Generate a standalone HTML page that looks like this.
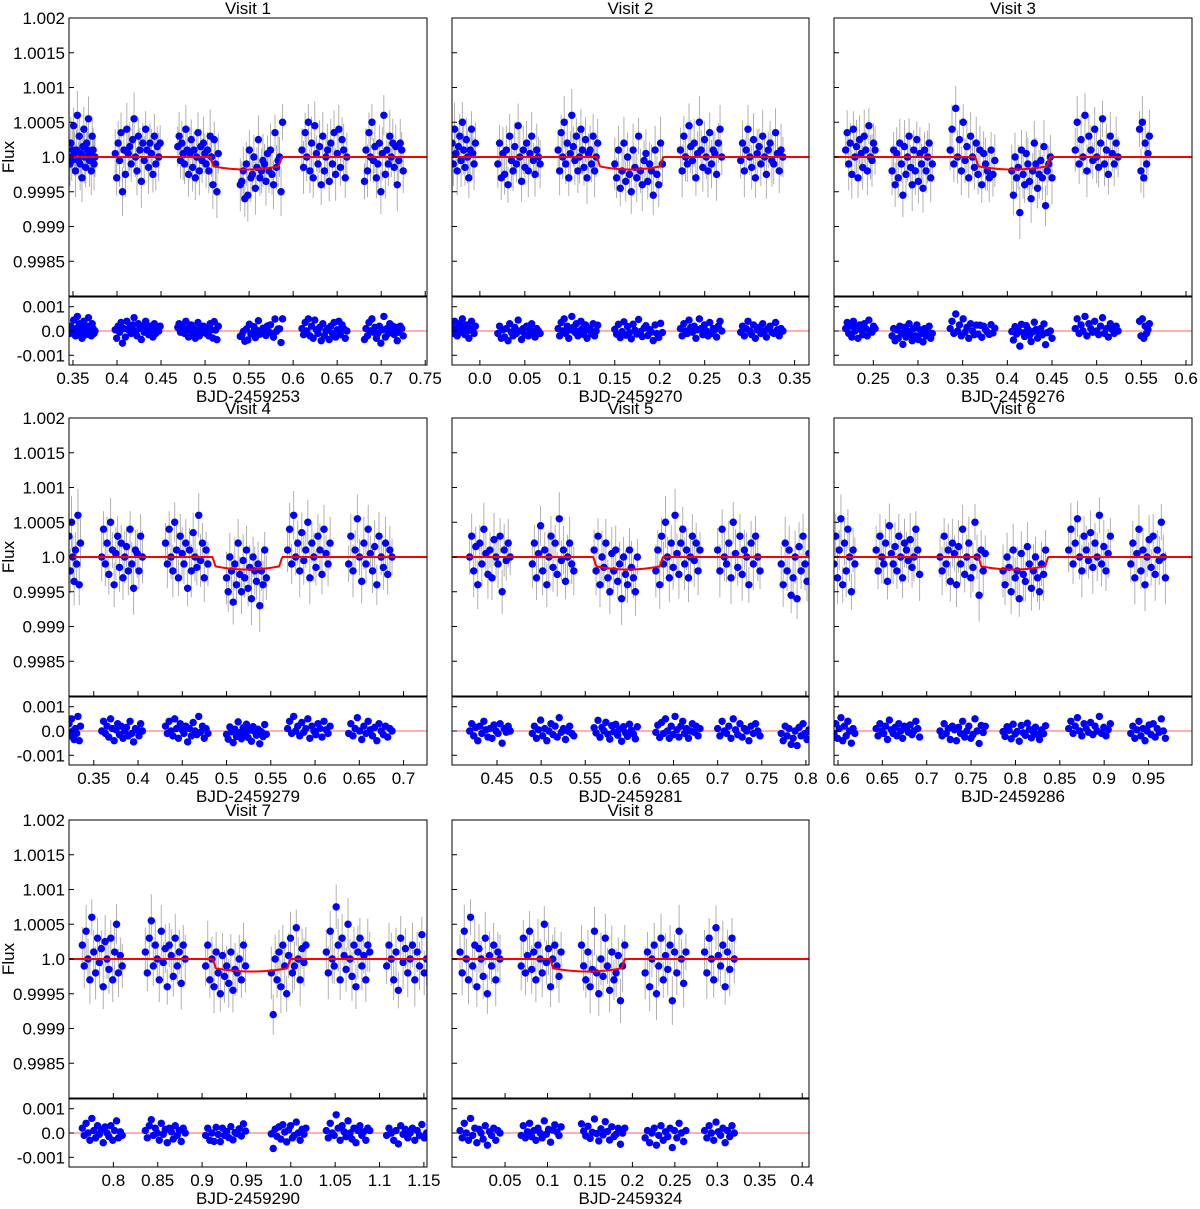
<!DOCTYPE html>
<html><head><meta charset="utf-8"><style>
body{margin:0;background:#fff;}
svg text{font-family:"Liberation Sans",sans-serif;fill:#000;}
</style></head><body>
<svg id="fig" width="1200" height="1204" xmlns="http://www.w3.org/2000/svg"></svg>
<script>
// ---- data (flux offsets in units of 1e-4, per orbit cluster) ----
const visitTitles = ["Visit 1","Visit 2","Visit 3","Visit 4","Visit 5","Visit 6","Visit 7","Visit 8"];
const visitBJD = ["BJD-2459253","BJD-2459270","BJD-2459276","BJD-2459279","BJD-2459281","BJD-2459286","BJD-2459290","BJD-2459324"];
const xRanges = [[0.3455,0.752],[-0.031,0.366],[0.206,0.6067],[0.322,0.7265],[0.399,0.8035],[0.5955,0.999],[0.750,1.1535],[-0.0125,0.408]];
const xTicks = [
 [0.35,0.4,0.45,0.5,0.55,0.6,0.65,0.7,0.75],
 [0.0,0.05,0.1,0.15,0.2,0.25,0.3,0.35],
 [0.25,0.3,0.35,0.4,0.45,0.5,0.55,0.6],
 [0.35,0.4,0.45,0.5,0.55,0.6,0.65,0.7],
 [0.45,0.5,0.55,0.6,0.65,0.7,0.75,0.8],
 [0.6,0.65,0.7,0.75,0.8,0.85,0.9,0.95],
 [0.8,0.85,0.9,0.95,1.0,1.05,1.1,1.15],
 [0.05,0.1,0.15,0.2,0.25,0.3,0.35,0.4]];
const xTickLabels = [
 ["0.35","0.4","0.45","0.5","0.55","0.6","0.65","0.7","0.75"],
 ["0.0","0.05","0.1","0.15","0.2","0.25","0.3","0.35"],
 ["0.25","0.3","0.35","0.4","0.45","0.5","0.55","0.6"],
 ["0.35","0.4","0.45","0.5","0.55","0.6","0.65","0.7"],
 ["0.45","0.5","0.55","0.6","0.65","0.7","0.75","0.8"],
 ["0.6","0.65","0.7","0.75","0.8","0.85","0.9","0.95"],
 ["0.8","0.85","0.9","0.95","1.0","1.05","1.1","1.15"],
 ["0.05","0.1","0.15","0.2","0.25","0.3","0.35","0.4"]];
const yTicks = [0.9985,0.999,0.9995,1.0,1.0005,1.001,1.0015,1.002];
const yTickLabels = ["0.9985","0.999","0.9995","1.0","1.0005","1.001","1.0015","1.002"];
const rTicks = [-0.001,0.0,0.001];
const rTickLabels = ["-0.001","0.0","0.001"];
// transit windows [start,end]
const transits = [[0.506,0.587],[0.130,0.204],[0.364,0.448],[0.484,0.563],[0.559,0.638],[0.758,0.837],[0.912,0.9995],[0.103,0.191]];
// orbit cluster time ranges
const clusterTimes = [
 [[0.3455,0.375],[0.398,0.449],[0.469,0.515],[0.540,0.588],[0.610,0.661],[0.681,0.725]],
 [[-0.031,-0.005],[0.020,0.067],[0.087,0.131],[0.150,0.203],[0.223,0.269],[0.290,0.337]],
 [[0.219,0.252],[0.271,0.316],[0.336,0.386],[0.405,0.450],[0.476,0.524],[0.548,0.559]],
 [[0.322,0.335],[0.359,0.405],[0.431,0.479],[0.500,0.545],[0.569,0.617],[0.638,0.687]],
 [[0.419,0.465],[0.490,0.537],[0.560,0.609],[0.630,0.680],[0.700,0.748],[0.772,0.8035]],
 [[0.5955,0.619],[0.643,0.692],[0.715,0.766],[0.786,0.834],[0.860,0.907],[0.930,0.969]],
 [[0.765,0.810],[0.836,0.881],[0.904,0.949],[0.978,1.017],[1.040,1.089],[1.108,1.153]],
 [[-0.003,0.044],[0.069,0.116],[0.140,0.191],[0.215,0.263],[0.285,0.320]]];
const clusterFlux = [
 ["0 -1 2 -0.5 1 4.5 0.5 -2 1 6 -0.5 3 -1 0.5 -3 1.5 4 0 -1.5 2 1 5.5 -0.5 0.5 -2 3 1 -1 0",
  "0.5 -3 2 -0.5 3.5 -5 1 -2.5 4 0.5 1.5 -1 2.5 5.5 0 -2 3 1 -3.5 2 -0.5 4 1 -1.5 2 0.5 -2.5 3 -1 1.5 0 2",
  "1.5 3 -0.5 2 0.5 -1 4 1 -2.5 0.5 2.5 -1.5 1 -3 0 3.5 -2 1.5 -0.5 2 0.5 -1 1 -2 3 0 -4 2.5 -1 -5 0.5",
  "-4 -3.5 -2 -6 -1 -5.5 1 -3 -2.5 0 -4.5 -1.5 2.5 -3 -2 -0.5 -1 -3.5 0.5 -2 1 -2.5 -4 3.5 -1.5 -0.5 0 -5 5",
  "1 -1.5 3.5 0 5 -2 2 -3 4.5 0.5 -1 1.5 -4 3 -2 0 1 -3.5 2 -1 3.5 -2.5 0.5 4 -1.5 2.5 1 -3 0",
  "-3.5 1 -2 3.5 0 5 -0.5 1.5 -3 -1 2 -5 0.5 6 -2.5 1 -1 3 0 2 -1.5 1.5 -4 -0.5 2 1 -2"],
 ["2 -1 4 0.5 -2 1.5 3 -0.5 5 1 -1.5 2.5 0 -3 1 4 0.5 -1 2",
  "-1 2 -3 0.5 -2.5 1 -4 3 -0.5 -2 1.5 -1 4.5 0 -3.5 1 -1.5 2 -2 0.5 3 -0.5 -2.5 1 0 -1",
  "1 -2 3.5 0 5 -1 2 -3 0.5 6 1.5 -0.5 3 -2 0 4 1 -1.5 2.5 -3 0.5 1 -1 3 -2 0 2",
  "-1 -3 1 -4.5 -2 2 -3.5 0 -2.5 -5 1 -1.5 -3 3 -2 -4 -0.5 0.5 -3.5 -1 -2 -5.5 1 -2.5 -4 2 -1",
  "1 -2 3 0 -1 4.5 1.5 -0.5 2 -3 0.5 5 1 -1.5 2.5 0 -2 3.5 -1 1 0.5 -2.5 2 4 0",
  "-0.5 2 -2 1 4 0 -1.5 2.5 -3 0.5 1.5 -1 3 0 -2.5 1 2 -0.5 -1 3.5 0.5 -2 1 0"],
 ["1 3.5 -1 2 -2.5 4 0 1.5 -3 2.5 0.5 -1.5 3 1 -2 4.5 0 -0.5 2 1",
  "-2 1 -4 0.5 -3 2 -1 -5.5 1.5 -2.5 0 3 -1.5 -4 1 -2 2.5 -3.5 0.5 -1 -4.5 1 -2 0 2 -3 -1",
  "1 4 -1 7 0 2.5 -2 5 -0.5 1.5 -3 3 0 -1.5 2 -2.5 1 -4 0.5 -1 -2 -3 1 -2.5 -0.5",
  "-2 -5.5 0 -3 -1.5 -8 1 -2.5 -4 0.5 -1 -3.5 -6 -2 2 -1 -4.5 -2.5 -0.5 -3 1.5 -7 -2 -1 0 -3",
  "1 5 -1 2.5 0 6 -2 3 1 -0.5 4 0 -1.5 2 5.5 -1 1 -2.5 3 0.5 -1 2 0",
  "4 -2 5 -3 2 -1 0.5 3"],
 ["3 -2 5 0 -3.5 1 -1 6 -4 2",
  "0 4 -1 2 -2.5 5 1 -4 0.5 3 -1.5 2 -3 0 1.5 -2 4 -1 -4.5 1 0.5 -2 3 0",
  "2 -1 4 0 -2 5 1 -3 3 0.5 -1 2 -4.5 1 -2 3.5 0 -1.5 6 -0.5 2 -3 1 -1",
  "-3 -5 0 -2 -6.5 -1 -4 2 -2.5 -5 -0.5 -3 1 -4.5 -1.5 -6 0 -2 -3.5 -1 -7 -2 -4 1 -3",
  "1 4 -1 6 0 2 -2 3.5 -0.5 1 5 -3 2 0 -1.5 3 1 -2.5 4 0.5 -1 2",
  "-1 3 -2 1 5.5 0 -3.5 2 -1 4 0.5 -2 1.5 -4 3 0 -1.5 2 -2.5 1 0"],
 ["0 3 -2 1.5 -4 2 -1 4 0.5 -2.5 1 -3 2.5 0 -1 3 -5 1 -0.5 2 0",
  "-1 2 -3 0.5 4.5 -2 1 -4 0 3 -1.5 2 -2.5 5.5 -0.5 1 -3.5 0 2 -1 -2",
  "1 -2 3 -4 0 -1.5 2 -3 -5 0.5 -2 1 -3.5 -1 -6 0 -2.5 -4 1 -1.5 -3 -5 0",
  "-2 1 -4 3 -1 5 0 -3 2 -1.5 6 0.5 -2.5 2 4 -1 1 -3 0 3 -0.5 2 -2 1",
  "1 -2 4 0 -1 2 -3 5 0.5 -1.5 3 -2.5 1 0 -4 2 -1 3 0 -2",
  "-1 -4 2 -2 1 -5.5 -3 0 -6 1.5 -2 3 -1 -3.5 0.5"],
 ["-1 3 -3 1 5.5 -4 2 -2 4 0 -5 1 -1",
  "1 -2 3 0 -1 2 -3.5 4.5 0.5 -1 1.5 -2 3 0 -3 2 1 -0.5 2.5 -1.5 0 4 1 -2.5",
  "0 -2 3 -1 1 -3.5 2 0.5 -4 1.5 -1 4 -2.5 0 2 -3 -1.5 5 0 -5.5 1 -2 0.5",
  "-2 -4 0 -1.5 -5 1 -3 -2 -6 0.5 -2.5 -3.5 1.5 -1 -4.5 -2 0 -3 -5 -1 -2.5 1",
  "1 4 -1 2 5.5 0 -2 3 1 -0.5 3.5 -1.5 2 0 6 -1 1.5 -2 0.5 3",
  "-1 2 -3 0.5 4 -2 1 -4 0 2.5 -1.5 3 -2.5 1 -0.5 5 0 -3"],
 ["2 -1 4 0 -3 6 1 -2 3 -0.5 1.5 -4 2.5 0 -1.5 3 -3 1 5 -2 0.5 -1",
  "1 -2 3 5.5 -1 2 0 -3 4 -0.5 1.5 -4 2 0.5 -2.5 3 -1 1 -3.5 2 0",
  "-1 2 -3 0 -4 1 -2 -5 0.5 -2.5 -1 -3.5 1 -4.5 -1.5 -2 0 -3 2 -1",
  "-2 -8 0 -3 1 -4 2 -1 -5 0.5 3 -2 -1 4.5 0 -3 1.5 -0.5 2",
  "1 -2 4 0 -1 7.5 2 -3 3 0.5 -1.5 5 0 -2.5 2 -4 1 3 -1 0.5 -3 2 1",
  "-1 2 0 -3 1 -4.5 3 -0.5 1.5 -2 0 2 -3 1 -1 3.5 -2 0"],
 ["1 -2 4 0 -3 6 -1 2 -4 1.5 0 -2.5 3 -5 0.5 -1 2 -3 1 0",
  "-1 3 -2 0.5 4 -1.5 1 -3 2 0 -2 5 -0.5 1.5 -4 0 2 -1 -2.5 1",
  "2 -1 -3 1 -4 -1.5 4 -2 -5 0 -2.5 3 -1 -4.5 1 -3 -2 0.5 -6 -1 2",
  "-2 1 -4 0 2 -5 -1 3 -3 0.5 -1.5 2 -6 1 -2 4 0 -3.5 1",
  "1 -2 3 0 -3 4.5 0.5 -1 2 -4 1 -1.5 3 0"]];

// ---- layout ----
const colX = [[69,427],[452,809],[834,1192]];
const rowY = [18,418,820];
const mainH = 278, gap = 1, resH = 68;
const svg = document.getElementById('fig');
const NS = "http://www.w3.org/2000/svg";
function mk(tag, attrs, parent){const e=document.createElementNS(NS,tag);for(const k in attrs)e.setAttribute(k,attrs[k]);(parent||svg).appendChild(e);return e;}

function model(t, tr){
  const [t1,t2]=tr; if(t<t1||t>t2) return 1.0;
  const tc=(t1+t2)/2, half=(t2-t1)/2, u=(t-tc)/half;
  const ing=0.0035; const edge=Math.min(t-t1,t2-t)/ing;
  const depth=(1.25+0.55*(1-u*u))*1e-4;
  return 1.0-depth*Math.min(1,edge);
}

visitTitles.forEach((title,v)=>{
  const c=v%3, r=Math.floor(v/3);
  const x0=colX[c][0], x1=colX[c][1], y0=rowY[r];
  const ry0=y0+mainH+gap;
  const [xa,xb]=xRanges[v];
  const X=t=>x0+(t-xa)/(xb-xa)*(x1-x0);
  const Y=f=>y0+(1.002-f)/0.004*mainH;
  const RY=d=>ry0+resH/2-d/0.0028*resH;
  const g=mk('g',{});
  
  
  const clip='clip'+v, clipR='clipr'+v;
  const defs=mk('defs',{},g);
  const cp=mk('clipPath',{id:clip},defs); mk('rect',{x:x0,y:y0,width:x1-x0,height:mainH},cp);
  const cp2=mk('clipPath',{id:clipR},defs); mk('rect',{x:x0,y:ry0,width:x1-x0,height:resH},cp2);
  const t=mk('text',{x:(x0+x1)/2,y:y0-4,'text-anchor':'middle','font-size':17},g); t.textContent=title;
   
  const eb=mk('g',{'clip-path':'url(#'+clip+')',stroke:'#a8a8a8','stroke-width':0.9},g);
   
  const pts=mk('g',{'clip-path':'url(#'+clip+')',fill:'#0000ff'},g);
   
  const rline=mk('line',{x1:x0,x2:x1,y1:RY(0),y2:RY(0),stroke:'#ff6060','stroke-width':1},g);
   
  const rpts=mk('g',{'clip-path':'url(#'+clipR+')',fill:'#0000ff'},g);
   
  clusterTimes[v].forEach((rng,k)=>{
    const vals=clusterFlux[v][k].trim().split(/\s+/).map(Number);
    vals.forEach((val,i)=>{
      const tt=rng[0]+(rng[1]-rng[0])*(vals.length>1?i/(vals.length-1):0.5);
      const m=model(tt,transits[v]);
      const f=1.0+val*1e-4;
      const px=X(tt), py=Y(f);
      const err=(2.6+((i*7+k*3)%5)*0.3)*1e-4;
      mk('line',{x1:px,x2:px,y1:Y(f+err),y2:Y(f-err)},eb);
      const d=mk('circle',{cx:px,cy:py,r:3.7},pts);
       
      const res=(f-m);
      const rd=mk('circle',{cx:px,cy:RY(res),r:3.7},rpts);
       
    });
  });
  let d='';
  for(let i=0;i<=600;i++){const tt=xa+(xb-xa)*i/600;d+=(i?'L':'M')+X(tt).toFixed(2)+' '+Y(model(tt,transits[v])).toFixed(2);}
  const ml=mk('path',{d:d,fill:'none',stroke:'#ff0000','stroke-width':2,'clip-path':'url(#'+clip+')'},g);
   
  const fr=mk('rect',{x:x0,y:y0,width:x1-x0,height:mainH,fill:'none',stroke:'#000','stroke-width':1},g);
   
  const fr2=mk('rect',{x:x0,y:ry0,width:x1-x0,height:resH,fill:'none',stroke:'#000','stroke-width':1},g);
   
  yTicks.forEach((yt,i)=>{
    mk('line',{x1:x0,x2:x0+5,y1:Y(yt),y2:Y(yt),stroke:'#000'},g);
    if(c===0){const l=mk('text',{x:x0-4,y:Y(yt)+6,'text-anchor':'end','font-size':17},g);l.textContent=yTickLabels[i];
       }
  });
  rTicks.forEach((yt,i)=>{
    mk('line',{x1:x0,x2:x0+5,y1:RY(yt),y2:RY(yt),stroke:'#000'},g);
    if(c===0){const l=mk('text',{x:x0-4,y:RY(yt)+6,'text-anchor':'end','font-size':17},g);l.textContent=rTickLabels[i];
       }
  });
  xTicks[v].forEach((xt,i)=>{
    const px=X(xt);
    mk('line',{x1:px,x2:px,y1:y0+mainH,y2:y0+mainH-5,stroke:'#000'},g);
    mk('line',{x1:px,x2:px,y1:ry0+resH,y2:ry0+resH-5,stroke:'#000'},g);
    const l=mk('text',{x:px,y:ry0+resH+19,'text-anchor':'middle','font-size':17},g);l.textContent=xTickLabels[v][i];
     
  });
  const xl=mk('text',{x:(x0+x1)/2,y:ry0+resH+37,'text-anchor':'middle','font-size':17},g);xl.textContent=visitBJD[v];
   
  if(c===0){const yl=mk('text',{x:14,y:Y(1.0),'text-anchor':'middle','font-size':17,transform:'rotate(-90 14 '+Y(1.0)+')'},g);yl.textContent='Flux';
     }
});
</script>
</body></html>
